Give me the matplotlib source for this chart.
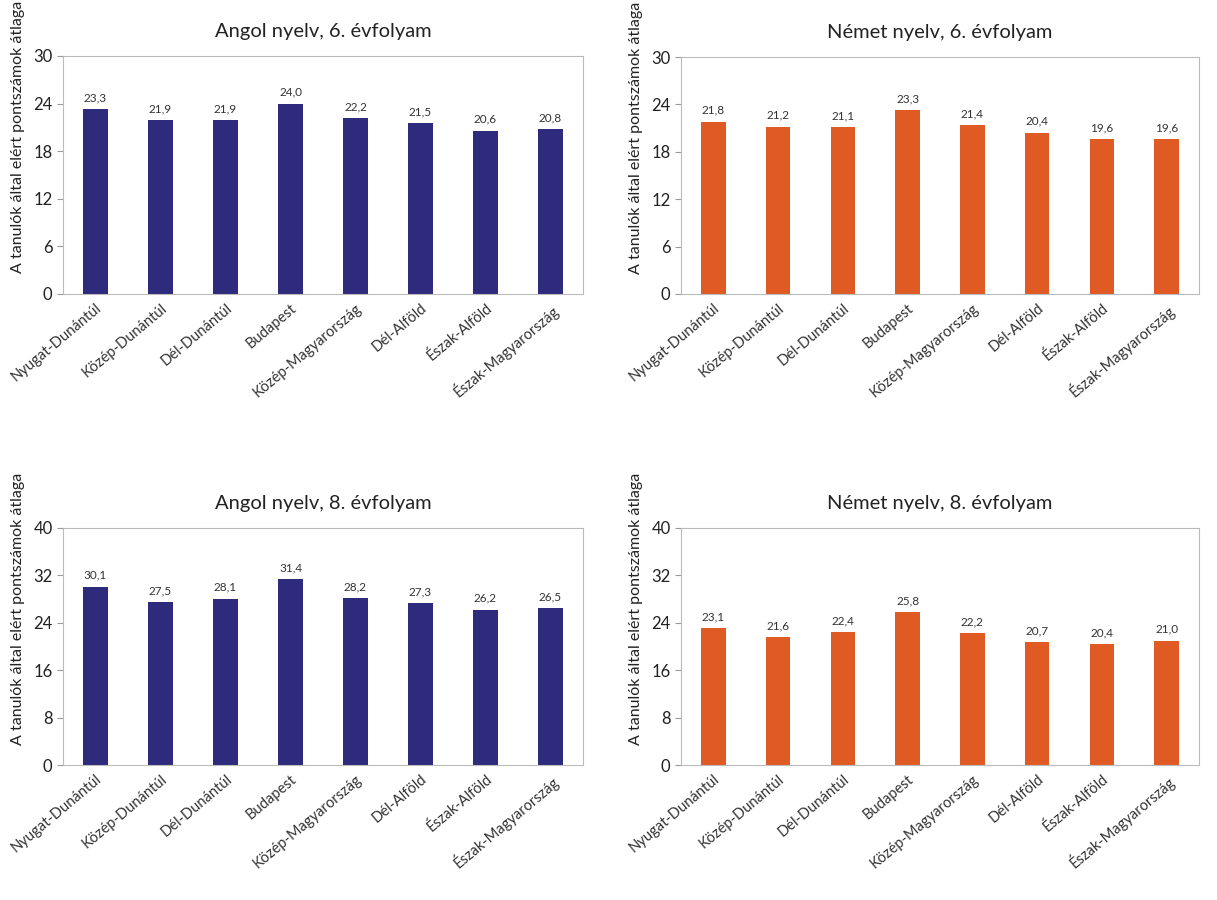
import matplotlib
matplotlib.use("Agg")
import matplotlib.pyplot as plt
import numpy as np

plt.rcParams["font.family"] = ["Lato", "DejaVu Sans"]

regions = ["Nyugat-Dunántúl", "Közép-Dunántúl", "Dél-Dunántúl", "Budapest",
           "Közép-Magyarország", "Dél-Alföld", "Észak-Alföld", "Észak-Magyarország"]

angol_6 = [23.3, 21.9, 21.9, 24.0, 22.2, 21.5, 20.6, 20.8]
nemet_6 = [21.8, 21.2, 21.1, 23.3, 21.4, 20.4, 19.6, 19.6]
angol_8 = [30.1, 27.5, 28.1, 31.4, 28.2, 27.3, 26.2, 26.5]
nemet_8 = [23.1, 21.6, 22.4, 25.8, 22.2, 20.7, 20.4, 21.0]

navy = "#2E2A7C"
orange = "#E05A24"
ylabel = "A tanulók által elért pontszámok átlaga"

W, H = 1217, 900
fig = plt.figure(figsize=(W / 100, H / 100), dpi=100)

# (values, title, colour, ymax, step, left, top, right, bottom) in pixels
panels = [
    (angol_6, "Angol nyelv, 6. évfolyam", navy, 30, 6, 63, 56, 583, 294),
    (nemet_6, "Német nyelv, 6. évfolyam", orange, 30, 6, 681, 57, 1199, 294),
    (angol_8, "Angol nyelv, 8. évfolyam", navy, 40, 8, 63, 528, 583, 765),
    (nemet_8, "Német nyelv, 8. évfolyam", orange, 40, 8, 681, 528, 1199, 765),
]

for vals, title, col, ymax, step, l, t, r, b in panels:
    ax = fig.add_axes([l / W, 1 - b / H, (r - l) / W, (b - t) / H])
    x = np.arange(len(regions))
    ax.bar(x, vals, width=0.38, color=col)
    for xi, v in zip(x, vals):
        ax.text(xi, v + ymax * 0.025, f"{v:.1f}".replace(".", ","),
                ha="center", va="bottom", fontsize=8.5, color="#333333")
    ax.set_xlim(-0.5, len(regions) - 0.5)
    ax.set_ylim(0, ymax)
    ax.set_yticks(np.arange(0, ymax + 1, step))
    ax.set_xticks(x)
    ax.set_xticklabels(regions, rotation=40, ha="right", rotation_mode="anchor",
                       fontsize=10.5, color="#333333")
    ax.tick_params(axis="x", length=0, pad=5)
    ax.tick_params(axis="y", labelsize=12, color="#999999", length=4,
                   labelcolor="#222222")
    for s in ax.spines.values():
        s.set_color("#BBBBBB")
        s.set_linewidth(0.8)
    ax.set_title(title, fontsize=14.5, color="#222222", pad=14)
    ycen = (t + b) / 2 - 38
    fig.text((l - 45) / W, 1 - ycen / H, ylabel, rotation=90, ha="center",
             va="center", fontsize=11.5, color="#222222")

fig.savefig("out.png", dpi=100)
